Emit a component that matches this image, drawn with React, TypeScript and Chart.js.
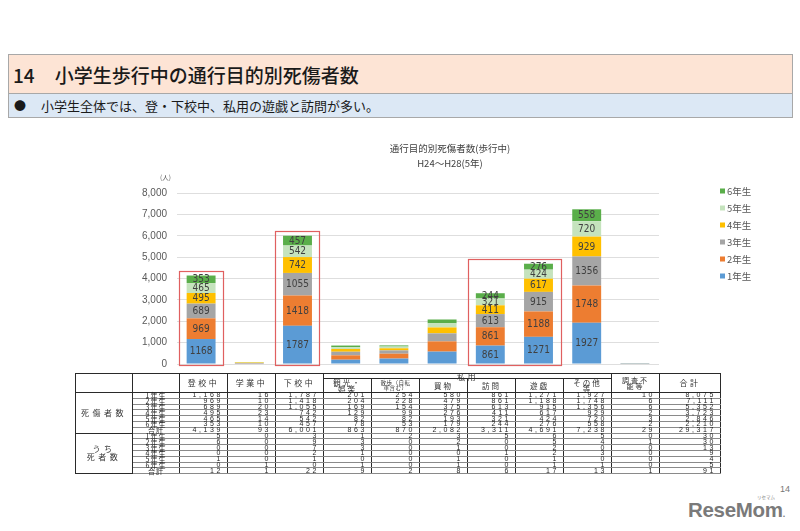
import React, { useEffect, useRef } from "react";
import { Chart, registerables } from "chart.js";
Chart.register(...registerables);

// ---------- data ----------
const categories = ["登校中", "学業中", "下校中", "観光・娯楽", "散歩(自転車含む)", "買物", "訪問", "遊戯", "その他等", "調査不能等"];
const tableHeads = ["登校中", "学業中", "下校中", "観光・\n娯楽", "散歩（自転\n車含む）", "買物", "訪問", "遊戯", "その他\n等", "調査不\n能等"];
const grades = ["1年生", "2年生", "3年生", "4年生", "5年生", "6年生"];
const gradeColors = ["#5b9bd5", "#ed7d31", "#a5a5a5", "#ffc000", "#c5e3bd", "#5aae4a"];

const grade1 = [1168, 16, 1787, 201, 254, 580, 861, 1271, 1927, 10];
const grade2 = [969, 10, 1418, 204, 228, 479, 861, 1188, 1748, 6];
const grade3 = [689, 20, 1055, 169, 154, 375, 613, 915, 1356, 6];
const grade4 = [495, 23, 742, 129, 99, 276, 411, 617, 929, 2];
const grade5 = [465, 14, 542, 82, 82, 193, 321, 424, 720, 3];
const grade6 = [353, 10, 457, 78, 53, 179, 244, 276, 558, 2];
const casualtyTotal = [4139, 93, 6001, 863, 870, 2082, 3311, 4691, 7238, 29];
const casualtyRowTotals = [8075, 7111, 5352, 3723, 2846, 2210, 29317];

const death1 = [5, 0, 3, 1, 2, 3, 5, 6, 5, 0];
const death2 = [6, 0, 9, 3, 0, 2, 0, 5, 4, 1];
const death3 = [0, 0, 7, 3, 0, 1, 0, 2, 0, 0];
const death4 = [0, 0, 2, 1, 0, 0, 1, 2, 3, 0];
const death5 = [1, 0, 1, 0, 0, 1, 0, 1, 0, 0];
const death6 = [0, 1, 0, 1, 0, 1, 0, 1, 1, 0];
const deathTotal = [12, 1, 22, 9, 2, 8, 6, 17, 13, 1];
const deathRowTotals = [30, 30, 13, 9, 4, 5, 91];

const yTicks = [0, 1000, 2000, 3000, 4000, 5000, 6000, 7000, 8000];
const labeledCategories = [0, 2, 6, 7, 8];
const highlightGroups = [[0, 0], [2, 2], [6, 7]];

const chartTitle = ["通行目的別死傷者数(歩行中)", "H24～H28(5年)"];
const unitLabel = "(人)";

const gradeSeries = [grade1, grade2, grade3, grade4, grade5, grade6];
const deathSeries = [death1, death2, death3, death4, death5, death6];

const JP = "'Noto Sans CJK JP', 'Noto Sans', sans-serif";
const fmt = (v: number) => v.toLocaleString("en-US");

const overlayPlugin = {
  id: "overlay",
  afterDatasetsDraw(chart: any) {
    const ctx = chart.ctx;
    const xs = chart.scales.x;
    const ys = chart.scales.y;
    ctx.save();
    ctx.font = "10px 'Liberation Sans Narrow', 'DejaVu Sans Condensed', Roboto, sans-serif";
    ctx.fillStyle = "#404040";
    ctx.textAlign = "center";
    ctx.textBaseline = "middle";
    chart.data.datasets.forEach((ds: any, di: number) => {
      const meta = chart.getDatasetMeta(di);
      meta.data.forEach((el: any, i: number) => {
        if (!labeledCategories.includes(i)) return;
        const p = el.getProps(["x", "y", "base"], true);
        ctx.fillText(String(ds.data[i]), p.x, (p.y + p.base) / 2 + 0.5);
      });
    });
    const w = xs.width / categories.length;
    ctx.strokeStyle = "#e06060";
    ctx.lineWidth = 1.2;
    highlightGroups.forEach(([a, b]) => {
      let maxTot = 0;
      for (let i = a; i <= b; i++) {
        let t = 0;
        chart.data.datasets.forEach((ds: any) => (t += ds.data[i]));
        maxTot = Math.max(maxTot, t);
      }
      const left = xs.getPixelForValue(a) - 0.46 * w;
      const right = xs.getPixelForValue(b) + 0.46 * w;
      const top = ys.getPixelForValue(maxTot) - 4.5;
      const bottom = ys.getPixelForValue(0) + 1.5;
      ctx.strokeRect(Math.round(left) + 0.5, Math.round(top) + 0.5, Math.round(right - left), Math.round(bottom - top));
    });
    ctx.restore();
  },
  afterDraw(chart: any) {
    const ctx = chart.ctx;
    ctx.save();
    ctx.fillStyle = "#404040";
    ctx.textAlign = "center";
    ctx.textBaseline = "middle";
    ctx.font = `9.5px ${JP}`;
    ctx.fillText(chartTitle[0], chart.width / 2, 18);
    ctx.fillText(chartTitle[1], chart.width / 2, 33);
    ctx.font = `6.5px ${JP}`;
    ctx.fillStyle = "#595959";
    ctx.textAlign = "right";
    ctx.fillText(unitLabel, chart.chartArea.left - 6, 48);
    ctx.textAlign = "left";
    ctx.font = `9.5px ${JP}`;
    const n = chart.data.datasets.length;
    for (let k = 0; k < n; k++) {
      const ds = chart.data.datasets[n - 1 - k];
      const y = 61 + k * 17;
      ctx.fillStyle = ds.backgroundColor;
      ctx.fillRect(590, y - 2.5, 5, 5);
      ctx.fillStyle = "#595959";
      ctx.fillText(ds.label, 597, y);
    }
    ctx.restore();
  },
};

function BarChart() {
  const ref = useRef<HTMLCanvasElement | null>(null);
  useEffect(() => {
    if (!ref.current) return;
    const chart = new Chart(ref.current, {
      type: "bar",
      data: {
        labels: categories,
        datasets: grades.map((g, i) => ({
          label: g,
          data: gradeSeries[i],
          backgroundColor: gradeColors[i],
          borderWidth: 0,
          barPercentage: 0.6,
          categoryPercentage: 1.0,
        })),
      },
      options: {
        responsive: false,
        animation: false,
        devicePixelRatio: 1,
        layout: { padding: { left: 0, right: 111, top: 63, bottom: 11 } },
        plugins: { legend: { display: false }, title: { display: false }, tooltip: { enabled: false } },
        scales: {
          x: { stacked: true, display: false },
          y: {
            stacked: true,
            min: 0,
            max: 8000,
            afterBuildTicks: (s: any) => {
              s.ticks = yTicks.map((v) => ({ value: v }));
            },
            afterFit: (s: any) => {
              s.width = 47;
            },
            ticks: {
              stepSize: 1000,
              padding: 10,
              color: "#595959",
              font: { family: "'Liberation Sans', Arial, sans-serif", size: 10 },
              callback: (v: any) => fmt(Number(v)),
            },
            grid: { color: "#dedede", drawTicks: false },
            border: { display: false },
          },
        },
      },
      plugins: [overlayPlugin],
    } as any);
    return () => chart.destroy();
  }, []);
  return (
    <canvas
      ref={ref}
      width={640}
      height={250}
      style={{ position: "absolute", left: 130, top: 130, width: 640, height: 250 }}
    />
  );
}

const cellBase: React.CSSProperties = {
  border: "1px solid #2a2a2a",
  padding: 0,
  fontSize: 7,
  lineHeight: "4px",
  color: "#1f1f1f",
  overflow: "visible",
  whiteSpace: "nowrap",
};
const numCell: React.CSSProperties = {
  ...cellBase,
  textAlign: "right",
  paddingRight: 4,
  letterSpacing: 2.6,
  fontFamily: "'Liberation Sans', Arial, sans-serif",
  borderTop: "1px solid #8a8a8a",
  borderBottom: "1px solid #8a8a8a",
};
const gradeCell: React.CSSProperties = {
  ...cellBase,
  textAlign: "center",
  letterSpacing: 1,
  fontFamily: JP,
  borderTop: "1px solid #8a8a8a",
  borderBottom: "1px solid #8a8a8a",
};
const headCell: React.CSSProperties = {
  ...cellBase,
  textAlign: "center",
  fontFamily: JP,
  fontSize: 8,
  lineHeight: "6px",
  letterSpacing: 2.5,
  whiteSpace: "pre-line",
  color: "#333",
};

function DataTable() {
  const rowH = 5.8;
  const block = (label: React.ReactNode, series: number[][], totals: number[], rowTotals: number[]) => {
    const rows: React.ReactNode[] = [];
    for (let r = 0; r < 7; r++) {
      const vals = r < 6 ? series[r] : totals;
      rows.push(
        <tr key={r} style={{ height: rowH }}>
          {r === 0 && (
            <td rowSpan={7} style={{ ...headCell, fontSize: 8, lineHeight: "8px", letterSpacing: 3.5, color: "#333" }}>
              {label}
            </td>
          )}
          <td style={gradeCell}>{r < 6 ? grades[r] : "合計"}</td>
          {vals.map((v, i) => (
            <td key={i} style={numCell}>
              {fmt(v)}
            </td>
          ))}
          <td style={numCell}>{fmt(rowTotals[r])}</td>
        </tr>
      );
    }
    return rows;
  };
  return (
    <table
      style={{
        position: "absolute",
        left: 75,
        top: 373,
        width: 645,
        borderCollapse: "collapse",
        tableLayout: "fixed",
        background: "#fff",
      }}
    >
      <colgroup>
        <col style={{ width: 57 }} />
        <col style={{ width: 47 }} />
        {categories.map((c) => (
          <col key={c} style={{ width: 48 }} />
        ))}
        <col style={{ width: 61 }} />
      </colgroup>
      <tbody>
        <tr style={{ height: 5 }}>
          <td rowSpan={2} style={headCell}></td>
          <td rowSpan={2} style={headCell}></td>
          <td rowSpan={2} style={headCell}>{tableHeads[0]}</td>
          <td rowSpan={2} style={headCell}>{tableHeads[1]}</td>
          <td rowSpan={2} style={headCell}>{tableHeads[2]}</td>
          <td colSpan={6} style={{ ...headCell, lineHeight: "3px", fontSize: 8 }}>私用</td>
          <td rowSpan={2} style={{ ...headCell, fontSize: 7, letterSpacing: 2 }}>{tableHeads[9]}</td>
          <td rowSpan={2} style={headCell}>合計</td>
        </tr>
        <tr style={{ height: 14 }}>
          {tableHeads.slice(3, 9).map((h, i) => (
            <td
              key={i}
              style={{
                ...headCell,
                fontSize: i === 1 ? 5.5 : 7.5,
                letterSpacing: i === 1 ? 0.5 : 2,
                lineHeight: i === 1 ? "5px" : "6px",
              }}
            >
              {h}
            </td>
          ))}
        </tr>
        {block("死傷者数", gradeSeries, casualtyTotal, casualtyRowTotals)}
        {block(<>うち{"\n"}死者数</>, deathSeries, deathTotal, deathRowTotals)}
      </tbody>
    </table>
  );
}

export default function App() {
  return (
    <div
      style={{
        position: "absolute",
        left: 0,
        top: 0,
        width: 800,
        height: 531,
        background: "#fff",
        overflow: "hidden",
        fontFamily: JP,
      }}
    >
      <div
        style={{
          position: "absolute",
          left: 8,
          top: 54,
          width: 785,
          height: 40,
          boxSizing: "border-box",
          background: "#fde4d5",
          border: "1px solid #a8a8a8",
          display: "flex",
          alignItems: "center",
          paddingLeft: 4,
          fontSize: 19,
          color: "#1a1a1a",
          fontWeight: 500,
        }}
      >
        <span>14</span>
        <span style={{ marginLeft: 20 }}>小学生歩行中の通行目的別死傷者数</span>
      </div>
      <div
        style={{
          position: "absolute",
          left: 8,
          top: 93,
          width: 785,
          height: 25,
          boxSizing: "border-box",
          background: "#dce8f5",
          border: "1px solid #a8a8a8",
          display: "flex",
          alignItems: "center",
          paddingLeft: 5,
          fontSize: 13,
          color: "#1a1a1a",
        }}
      >
        <span style={{ fontSize: 12 }}>●</span>
        <span style={{ marginLeft: 15 }}>小学生全体では、登・下校中、私用の遊戯と訪問が多い。</span>
      </div>
      <BarChart />
      <DataTable />
      <div style={{ position: "absolute", left: 780, top: 484, fontSize: 9, color: "#777", fontFamily: "'Liberation Sans', Arial, sans-serif" }}>
        14
      </div>
      <div style={{ position: "absolute", left: 757, top: 495, fontSize: 4.5, color: "#888", lineHeight: "5px" }}>リセマム</div>
      <div
        style={{
          position: "absolute",
          left: 688,
          top: 498,
          fontSize: 20.5,
          lineHeight: "24px",
          fontWeight: 700,
          color: "#7a7a7a",
          letterSpacing: -0.3,
          fontFamily: "'Liberation Sans', Arial, sans-serif",
        }}
      >
        ReseMom<span style={{ fontSize: 9 }}>.</span>
      </div>
    </div>
  );
}
